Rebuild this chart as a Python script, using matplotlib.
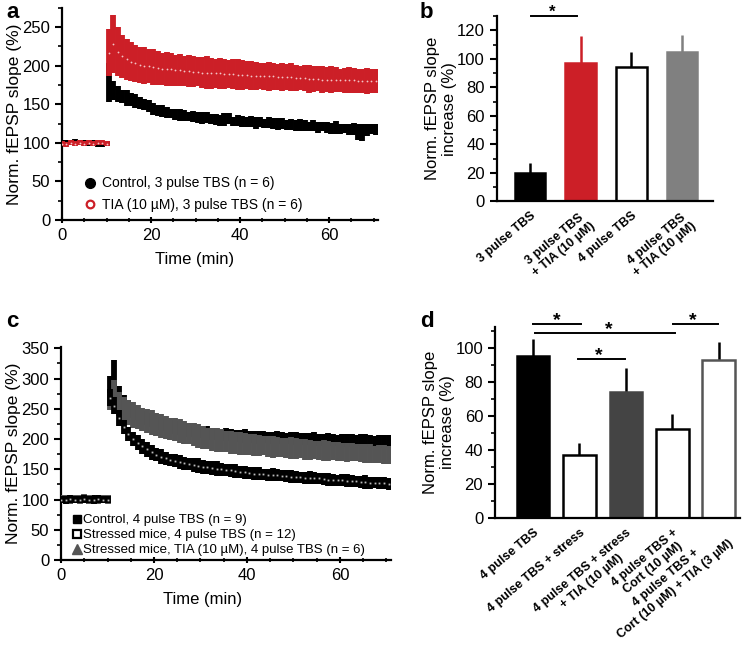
import numpy as np
import matplotlib
matplotlib.use("Agg")
from matplotlib import pyplot as plt
from matplotlib.lines import Line2D
from matplotlib.ticker import MultipleLocator

plt.rcParams['font.family'] = ['Liberation Sans', 'DejaVu Sans']

RED = '#cc1f27'
GRAY_B = '#808080'
GRAY_C = '#555555'

# ---- panel a : time course, 3 pulse TBS ----
t_base = [0, 1, 2, 3, 4, 5, 6, 7, 8, 9, 10]
t_post = list(np.arange(10.5, 71, 1.0))

a_ctrl_base = [100, 101, 100, 102, 100, 101, 99, 100, 97, 98, 99]
a_tia_base = [99, 98, 100, 99, 100, 99, 100, 99, 100, 100, 99]
a_ctrl_post = [178, 168, 163, 160, 158, 156, 154, 152, 150, 148,
               144, 142, 141, 139, 138, 137, 136, 135, 134, 134,
               133, 132, 133, 131, 130, 129, 130, 131, 128, 129,
               128, 127, 128, 126, 127, 125, 126, 125, 124, 125,
               123, 124, 122, 123, 122, 121, 122, 120, 121, 120,
               119, 120, 118, 119, 117, 118, 114, 113, 117, 118,
               117]
a_ctrl_err = [25, 12, 10, 9, 10, 8, 9, 8, 7, 8,
              8, 7, 8, 7, 6, 7, 8, 7, 6, 7,
              7, 8, 7, 6, 7, 7, 8, 7, 6, 7,
              7, 6, 7, 8, 7, 6, 7, 7, 8, 7,
              6, 7, 7, 8, 7, 6, 7, 7, 6, 7,
              7, 8, 7, 6, 7, 8, 10, 11, 8, 7,
              7]
a_tia_post = [217, 228, 218, 212, 208, 205, 203, 201, 200, 199,
              198, 197, 196, 196, 195, 194, 194, 193, 193, 192,
              192, 191, 191, 190, 190, 190, 189, 189, 189, 188,
              188, 188, 187, 187, 187, 186, 186, 186, 185, 185,
              185, 185, 184, 184, 184, 183, 183, 183, 182, 182,
              182, 182, 181, 181, 181, 181, 180, 180, 180, 180,
              180]
a_tia_err = [30, 38, 32, 28, 26, 25, 24, 23, 24, 22,
             23, 22, 21, 22, 21, 20, 21, 20, 21, 20,
             19, 20, 21, 20, 19, 20, 19, 18, 19, 20,
             19, 18, 19, 18, 17, 18, 19, 18, 17, 18,
             17, 18, 17, 16, 17, 18, 17, 16, 17, 16,
             17, 16, 15, 16, 17, 16, 15, 16, 17, 16,
             16]

# ---- panel b : bar chart ----
b_labels = ['3 pulse TBS', '3 pulse TBS\n+ TIA (10 µM)', '4 pulse TBS',
            '4 pulse TBS\n+ TIA (10 µM)']
b_values = [20, 97, 94, 105]
b_errors = [7, 19, 11, 12]

# ---- panel c : time course, 4 pulse TBS, stress ----
c_ctrl_base = [100, 101, 99, 100, 102, 100, 99, 101, 100, 100, 101]
c_str_base = [100, 99, 101, 100, 100, 101, 100, 99, 101, 100, 100]
c_tia_base = [101, 100, 99, 101, 100, 102, 100, 99, 100, 101, 100]
c_ctrl_post = [285, 300, 272, 260, 252, 246, 241, 237, 233, 230,
               227, 225, 223, 221, 219, 217, 216, 214, 213, 212,
               211, 210, 209, 208, 207, 207, 206, 206, 205, 205,
               204, 204, 203, 203, 203, 202, 202, 202, 201, 201,
               201, 200, 201, 200, 200, 199, 200, 199, 199, 198,
               199, 198, 198, 197, 198, 197, 197, 196, 197, 196,
               196]
c_ctrl_err = [20, 30, 15, 12, 12, 11, 10, 10, 10, 10,
              10, 10, 10, 10, 10, 10, 10, 10, 10, 10,
              10, 11, 10, 9, 10, 11, 10, 9, 10, 11,
              10, 9, 11, 10, 9, 10, 11, 10, 9, 10,
              11, 10, 9, 10, 11, 10, 9, 11, 10, 9,
              10, 11, 10, 9, 10, 11, 10, 9, 10, 11,
              10]
c_str_post = [268, 255, 235, 220, 208, 200, 194, 188, 183, 178,
              174, 171, 168, 166, 164, 162, 160, 159, 157, 156,
              154, 153, 152, 151, 150, 149, 148, 147, 146, 145,
              144, 143, 143, 142, 141, 141, 140, 139, 139, 138,
              137, 137, 136, 136, 135, 135, 134, 133, 133, 132,
              132, 131, 131, 130, 129, 129, 128, 128, 127, 127,
              126]
c_str_err = [14, 14, 13, 12, 12, 12, 12, 12, 12, 12,
             11, 12, 11, 10, 11, 12, 11, 10, 11, 12,
             11, 10, 11, 12, 11, 10, 11, 11, 10, 11,
             10, 11, 10, 9, 10, 11, 10, 9, 10, 11,
             10, 9, 10, 11, 10, 9, 10, 11, 10, 9,
             10, 11, 10, 9, 10, 11, 10, 9, 10, 10,
             10]
c_tia_post = [262, 278, 258, 250, 244, 240, 236, 233, 230, 227,
              224, 222, 219, 217, 215, 213, 211, 209, 207, 205,
              203, 201, 200, 198, 197, 196, 195, 194, 193, 192,
              191, 190, 189, 189, 188, 187, 187, 186, 185, 185,
              184, 184, 183, 182, 182, 181, 181, 180, 180, 179,
              179, 178, 178, 177, 177, 176, 176, 175, 175, 174,
              174]
c_tia_err = [14, 20, 20, 20, 20, 21, 20, 19, 20, 21,
             19, 20, 19, 18, 19, 20, 19, 18, 19, 20,
             19, 18, 19, 20, 19, 18, 19, 18, 19, 18,
             17, 18, 17, 16, 17, 18, 17, 16, 17, 18,
             17, 16, 17, 16, 15, 16, 17, 16, 15, 16,
             15, 16, 15, 14, 15, 16, 15, 14, 15, 16,
             15]

# ---- panel d : bar chart ----
d_labels = ['4 pulse TBS', '4 pulse TBS + stress',
            '4 pulse TBS + stress\n+ TIA (10 µM)', '4 pulse TBS +\nCort (10 µM)',
            '4 pulse TBS +\nCort (10 µM) + TIA (3 µM)']
d_values = [95, 37, 74, 52, 93]
d_errors = [10, 7, 14, 9, 10]


def style_axes(ax):
    for s in ['top', 'right']:
        ax.spines[s].set_visible(False)
    for s in ['left', 'bottom']:
        ax.spines[s].set_linewidth(1.6)
    ax.tick_params(which='major', length=5, width=1.5, labelsize=12)
    ax.tick_params(which='minor', length=3, width=1.2)


def trace(ax, t, m, e, color, mfc, marker, ms, z):
    ax.errorbar(t, m, yerr=e, fmt=marker, ms=ms, color=color, mfc=mfc,
                mec=mfc, mew=0, ecolor=color, elinewidth=4.2, capsize=0,
                zorder=z)


fig = plt.figure(figsize=(7.47, 6.47), dpi=100)

# panel a
ax = fig.add_axes([0.083, 0.660, 0.423, 0.328])
t_all = t_base + t_post
trace(ax, t_all, a_ctrl_base + a_ctrl_post, [3] * 11 + a_ctrl_err,
      'black', 'black', 'o', 2, 2)
trace(ax, t_all, a_tia_base + a_tia_post, [3] * 11 + a_tia_err,
      RED, '#f2c4c6', 'o', 1.3, 3)
ax.set_xlim(0, 71)
ax.set_ylim(0, 275)
ax.xaxis.set_major_locator(MultipleLocator(20))
ax.xaxis.set_minor_locator(MultipleLocator(5))
ax.yaxis.set_major_locator(MultipleLocator(50))
ax.yaxis.set_minor_locator(MultipleLocator(25))
style_axes(ax)
ax.tick_params(axis='x', which='both', direction='inout')
ax.set_xlabel('Time (min)', fontsize=12)
ax.xaxis.set_label_coords(0.42, -0.15)
ax.set_ylabel('Norm. fEPSP slope (%)', fontsize=12.5, labelpad=0)
h = [Line2D([], [], ls='none', marker='o', ms=7, color='black'),
     Line2D([], [], ls='none', marker='o', ms=5.5, mfc='white', mec=RED, mew=1.6)]
ax.legend(h, ['Control, 3 pulse TBS (n = 6)', 'TIA (10 µM), 3 pulse TBS (n = 6)'],
          loc='upper left', bbox_to_anchor=(0.07, 0.205), frameon=False,
          fontsize=10, handlelength=0.8, handletextpad=0.5, labelspacing=0.55,
          borderpad=0, borderaxespad=0)

# panel b
ax = fig.add_axes([0.665, 0.689, 0.289, 0.286])
xb = np.arange(len(b_values))
b_face = ['black', RED, 'white', GRAY_B]
b_edge = ['black', RED, 'black', GRAY_B]
for i in range(len(b_values)):
    ax.errorbar(xb[i], b_values[i], yerr=[[0], [b_errors[i]]], fmt='none',
                ecolor=b_edge[i], elinewidth=1.8, capsize=0, zorder=1)
    ax.bar(xb[i], b_values[i], width=0.6, color=b_face[i], edgecolor=b_edge[i],
           linewidth=1.8, zorder=2)
ax.set_xlim(-0.65, 3.6)
ax.set_ylim(0, 130)
ax.yaxis.set_major_locator(MultipleLocator(20))
ax.yaxis.set_minor_locator(MultipleLocator(10))
style_axes(ax)
ax.set_xticks(xb)
ax.set_xticklabels(b_labels, rotation=40, ha='right', rotation_mode='anchor',
                   fontsize=9, fontweight='bold', multialignment='center')
ax.tick_params(axis='x', length=0, pad=6)
ax.set_ylabel('Norm. fEPSP slope\nincrease (%)', fontsize=12, labelpad=0)
ax.plot([0.02, 0.92], [130, 130], color='black', lw=1.4, clip_on=False)
ax.text(0.45, 129.5, '*', ha='center', va='baseline', fontsize=12,
        fontweight='bold')

# panel c
ax = fig.add_axes([0.0817, 0.1345, 0.4418, 0.329])
trace(ax, t_all, c_ctrl_base + c_ctrl_post, [6] * 11 + c_ctrl_err,
      'black', 'black', 's', 2, 2)
trace(ax, t_all, c_tia_base + c_tia_post, [7] * 11 + c_tia_err,
      GRAY_C, GRAY_C, '^', 2, 3)
trace(ax, t_all, c_str_base + c_str_post, [6] * 11 + c_str_err,
      'black', '#bbbbbb', 's', 1.3, 4)
ax.set_xlim(0, 71)
ax.set_ylim(0, 352)
ax.xaxis.set_major_locator(MultipleLocator(20))
ax.xaxis.set_minor_locator(MultipleLocator(5))
ax.yaxis.set_major_locator(MultipleLocator(50))
ax.yaxis.set_minor_locator(MultipleLocator(25))
style_axes(ax)
ax.tick_params(axis='x', which='both', direction='inout')
ax.set_xlabel('Time (min)', fontsize=12)
ax.xaxis.set_label_coords(0.43, -0.15)
ax.set_ylabel('Norm. fEPSP slope (%)', fontsize=12.5, labelpad=0)
h = [Line2D([], [], ls='none', marker='s', ms=6, color='black'),
     Line2D([], [], ls='none', marker='s', ms=5.5, mfc='white', mec='black', mew=1.6),
     Line2D([], [], ls='none', marker='^', ms=7, color=GRAY_C)]
ax.legend(h, ['Control, 4 pulse TBS (n = 9)', 'Stressed mice, 4 pulse TBS (n = 12)',
              'Stressed mice, TIA (10 µM), 4 pulse TBS (n = 6)'],
          loc='upper left', bbox_to_anchor=(0.035, 0.215), frameon=False,
          fontsize=9.5, handlelength=0.6, handletextpad=0.2, labelspacing=0.2,
          borderpad=0, borderaxespad=0)

# panel d
ax = fig.add_axes([0.6627, 0.1994, 0.328, 0.295])
xd = np.arange(len(d_values))
d_face = ['black', 'white', '#444444', 'white', 'white']
d_edge = ['black', 'black', '#444444', 'black', '#555555']
for i in range(len(d_values)):
    ax.errorbar(xd[i], d_values[i], yerr=[[0], [d_errors[i]]], fmt='none',
                ecolor='black', elinewidth=1.8, capsize=0, zorder=1)
    ax.bar(xd[i], d_values[i], width=0.7, color=d_face[i], edgecolor=d_edge[i],
           linewidth=1.8, zorder=2)
ax.set_xlim(-0.82, 4.46)
ax.set_ylim(0, 112)
ax.yaxis.set_major_locator(MultipleLocator(20))
ax.yaxis.set_minor_locator(MultipleLocator(10))
style_axes(ax)
ax.set_xticks(xd)
ax.set_xticklabels(d_labels, rotation=40, ha='right', rotation_mode='anchor',
                   fontsize=9, fontweight='bold', multialignment='center')
ax.tick_params(axis='x', length=0, pad=6)
ax.set_ylabel('Norm. fEPSP slope\nincrease (%)', fontsize=12, labelpad=0)
sig_lines = [(0.0, 1.03, 113.8, 0.52), (0.04, 3.06, 108.5, 1.64),
             (3.02, 3.99, 113.8, 3.45), (0.97, 1.98, 93.2, 1.42)]
for x0, x1, y, xs in sig_lines:
    ax.plot([x0, x1], [y, y], color='black', lw=1.4, clip_on=False)
    ax.text(xs, y - 0.5, '*', ha='center', va='baseline', fontsize=14,
            fontweight='bold', clip_on=False)

for lbl, x, y in [('a', 0.008, 0.997), ('b', 0.562, 0.997),
                  ('c', 0.008, 0.52), ('d', 0.562, 0.52)]:
    fig.text(x, y, lbl, fontsize=16, fontweight='bold', va='top', ha='left')

fig.savefig('out.png', dpi=100)
